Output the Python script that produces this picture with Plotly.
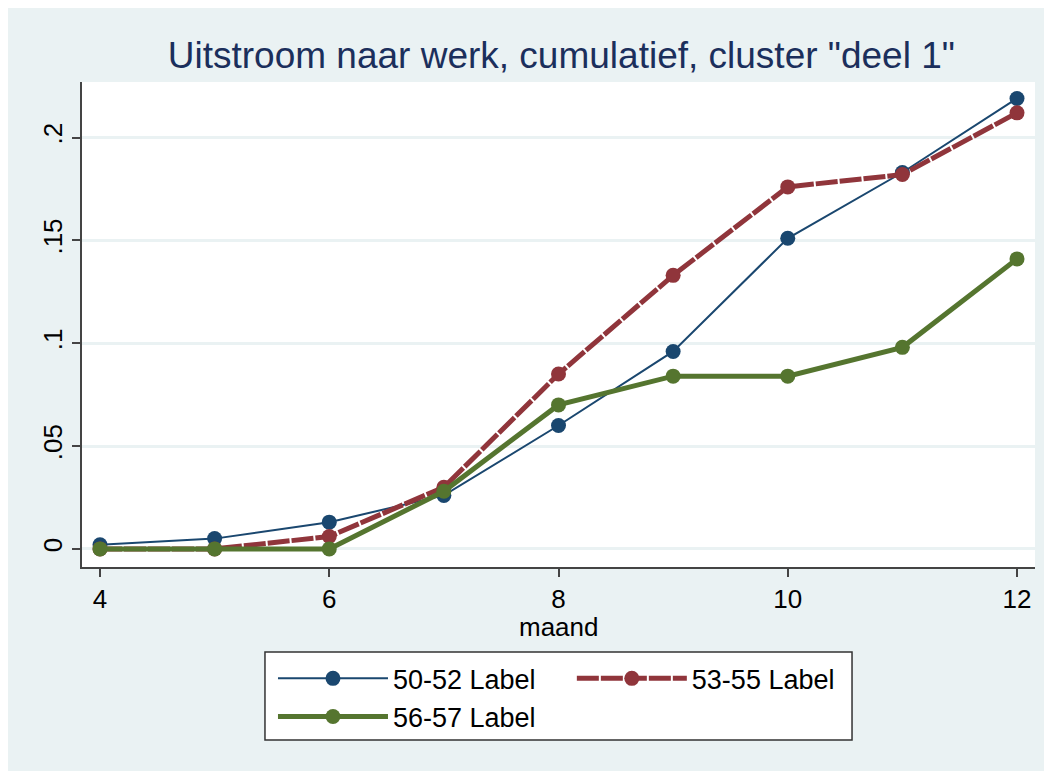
import plotly.graph_objects as go

maand = [4, 5, 6, 7, 8, 9, 10, 11, 12]
s50_52 = [0.002, 0.005, 0.013, 0.026, 0.060, 0.096, 0.151, 0.183, 0.219]
s53_55 = [0.0, 0.0, 0.006, 0.030, 0.085, 0.133, 0.176, 0.182, 0.212]
s56_57 = [0.0, 0.0, 0.0, 0.028, 0.070, 0.084, 0.084, 0.098, 0.141]

ytick_vals = [0, 0.05, 0.1, 0.15, 0.2]
ytick_text = ["0", ".05", ".1", ".15", ".2"]

bg = "#EAF2F3"
font = "Liberation Sans, Arial, sans-serif"

fig = go.Figure()
fig.add_trace(go.Scatter(x=maand, y=s50_52, mode="lines+markers", name="50-52 Label",
                         line=dict(color="#1A476F", width=2),
                         marker=dict(size=15, color="#1A476F")))
fig.add_trace(go.Scatter(x=maand, y=s53_55, mode="lines+markers", name="53-55 Label",
                         line=dict(color="#90353B", width=5, dash="22px,2px"),
                         marker=dict(size=15, color="#90353B"), legend="legend2"))
fig.add_trace(go.Scatter(x=maand, y=s56_57, mode="lines+markers", name="56-57 Label",
                         line=dict(color="#55752F", width=5),
                         marker=dict(size=15, color="#55752F")))

# legend box (two legends share one frame)
fig.add_shape(type="rect", xref="paper", yref="paper",
              x0=0.192, x1=0.808, y0=-0.3567, y1=-0.1753,
              line=dict(color="#333", width=1.5), fillcolor="white", layer="below")

fig.add_annotation(text="maand", xref="paper", yref="paper", x=0.5, y=-0.124,
                   yanchor="middle", showarrow=False, font=dict(size=26))

leg = dict(bgcolor="rgba(0,0,0,0)", borderwidth=0, font=dict(size=27),
           itemwidth=110, yanchor="top", xanchor="left", orientation="v")

fig.update_layout(
    width=1052, height=771,
    margin=dict(l=74, r=25, t=74, b=212),
    paper_bgcolor=bg, plot_bgcolor="white",
    font=dict(family=font, size=26, color="black"),
    title=dict(text='Uitstroom naar werk, cumulatief, cluster "deel 1"',
               x=0.503, xref="paper", xanchor="center",
               y=1-47/771, yref="container", yanchor="middle",
               font=dict(size=37, color="#1B2F5C")),
    xaxis=dict(range=[3.843, 12.157], tickvals=[4, 6, 8, 10, 12],
               showgrid=False, zeroline=False, showline=True, linecolor="#444", linewidth=2,
               ticks="outside", ticklen=8, tickcolor="#444", tickwidth=1.5,
               tickfont=dict(size=26)),
    yaxis=dict(range=[-0.0088, 0.227], tickvals=ytick_vals, ticktext=ytick_text,
               tickangle=-90, showgrid=True, gridcolor=bg, gridwidth=3,
               zeroline=False, showline=True, linecolor="#444", linewidth=2,
               ticks="outside", ticklen=8, tickcolor="#444", tickwidth=1.5,
               tickfont=dict(size=26)),
    legend=dict(x=0.2004, y=-0.180, **leg),
    legend2=dict(x=0.514, y=-0.180, **leg),
    showlegend=True,
)

fig.write_html("out.html")
